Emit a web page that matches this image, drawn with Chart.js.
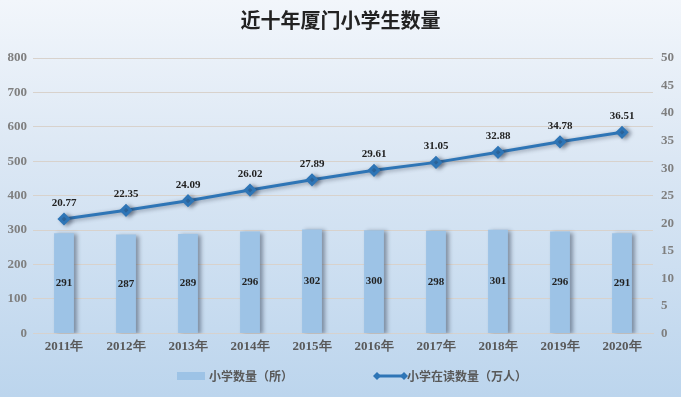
<!DOCTYPE html>
<html>
<head>
<meta charset="utf-8">
<script src="https://cdn.jsdelivr.net/npm/chart.js@4"></script>
<style>
  html, body { margin: 0; padding: 0; }
  body { width: 681px; height: 397px; overflow: hidden;
    background: linear-gradient(to bottom, #f2f6fb 0%, #dbe7f4 40%, #bcd5ed 100%); }
  canvas { display: block; }
</style>
</head>
<body>
<canvas id="c" width="681" height="397"></canvas>
<script>
// ── data ──
const years = ['2011年', '2012年', '2013年', '2014年', '2015年', '2016年', '2017年', '2018年', '2019年', '2020年'];
const schools = [291, 287, 289, 296, 302, 300, 298, 301, 296, 291];
const students = [20.77, 22.35, 24.09, 26.02, 27.89, 29.61, 31.05, 32.88, 34.78, 36.51];

const numFont = '"Liberation Serif", "DejaVu Serif", serif';
const cjkFont = '"Noto Sans CJK SC", sans-serif';

// shadows under bars and line
const shadowPlugin = {
    id: 'shadows',
    beforeDatasetDraw(chart) {
        const ctx = chart.ctx;
        ctx.save();
        ctx.shadowColor = 'rgba(40,50,70,0.45)';
        ctx.shadowBlur = 4;
        ctx.shadowOffsetX = 3;
        ctx.shadowOffsetY = 1;
    },
    afterDatasetDraw(chart) {
        chart.ctx.restore();
    }
};

// value labels
const labelPlugin = {
    id: 'valueLabels',
    afterDatasetsDraw(chart) {
        const ctx = chart.ctx;
        ctx.save();
        ctx.fillStyle = '#222';
        ctx.font = 'bold 11px ' + numFont;
        ctx.textAlign = 'center';
        ctx.textBaseline = 'middle';
        chart.getDatasetMeta(1).data.forEach((bar, i) => {
            ctx.fillText(schools[i], bar.x, (bar.y + bar.base) / 2);
        });
        chart.getDatasetMeta(0).data.forEach((pt, i) => {
            ctx.fillText(students[i].toFixed(2), pt.x, pt.y - 16);
        });
        ctx.restore();
    }
};

// custom legend
const legendPlugin = {
    id: 'customLegend',
    afterDraw(chart) {
        const ctx = chart.ctx;
        const y = 376;
        ctx.save();
        ctx.fillStyle = '#9dc3e6';
        ctx.fillRect(177, y - 4, 28, 8);
        ctx.font = 'bold 12px ' + cjkFont;
        ctx.fillStyle = '#595959';
        ctx.textBaseline = 'middle';
        ctx.fillText('小学数量（所）', 209, y);
        ctx.strokeStyle = '#2e75b6';
        ctx.lineWidth = 3;
        ctx.beginPath();
        ctx.moveTo(377, y);
        ctx.lineTo(404, y);
        ctx.stroke();
        ctx.fillStyle = '#2e75b6';
        [377, 404].forEach(x => {
            ctx.beginPath();
            ctx.moveTo(x, y - 4); ctx.lineTo(x + 4, y); ctx.lineTo(x, y + 4); ctx.lineTo(x - 4, y);
            ctx.closePath(); ctx.fill();
        });
        ctx.fillStyle = '#595959';
        ctx.fillText('小学在读数量（万人）', 407, y);
        ctx.restore();
    }
};

new Chart(document.getElementById('c'), {
    type: 'bar',
    data: {
        labels: years,
        datasets: [
            {
                type: 'line', label: '小学在读数量（万人）', data: students, yAxisID: 'y2', order: 1,
                borderColor: '#2e75b6', borderWidth: 3, pointStyle: 'rectRot', pointRadius: 4.5,
                pointBackgroundColor: '#2e75b6', pointBorderColor: '#2e75b6', tension: 0
            },
            {
                type: 'bar', label: '小学数量（所）', data: schools, yAxisID: 'y', order: 2,
                backgroundColor: '#9dc3e6', barPercentage: 0.32, categoryPercentage: 1
            }
        ]
    },
    options: {
        responsive: false,
        animation: false,
        layout: { padding: { top: 0, bottom: 38, left: 0, right: 0 } },
        plugins: {
            legend: { display: false },
            tooltip: { enabled: false },
            title: {
                display: true, text: '近十年厦门小学生数量', color: '#222',
                font: { family: cjkFont, size: 20, weight: 'bold' },
                padding: { top: 8, bottom: 26 }
            }
        },
        scales: {
            x: {
                grid: { display: false, drawTicks: false },
                border: { color: '#d6d2ce' },
                ticks: { color: '#595959', font: { family: numFont, size: 13, weight: 'bold' }, padding: 5 }
            },
            y: {
                min: 0, max: 800,
                ticks: { stepSize: 100, color: '#7f7f7f', font: { family: numFont, size: 13, weight: 'bold' }, padding: 6 },
                grid: { color: '#d8d2cc', lineWidth: 1, drawTicks: false },
                border: { display: false },
                afterFit(s) { s.width = 33; }
            },
            y2: {
                position: 'right', min: 0, max: 50,
                ticks: { stepSize: 5, color: '#7f7f7f', font: { family: numFont, size: 13, weight: 'bold' }, padding: 8 },
                grid: { display: false, drawTicks: false },
                border: { display: false },
                afterFit(s) { s.width = 28; }
            }
        }
    },
    plugins: [shadowPlugin, labelPlugin, legendPlugin]
});
</script>
</body>
</html>
